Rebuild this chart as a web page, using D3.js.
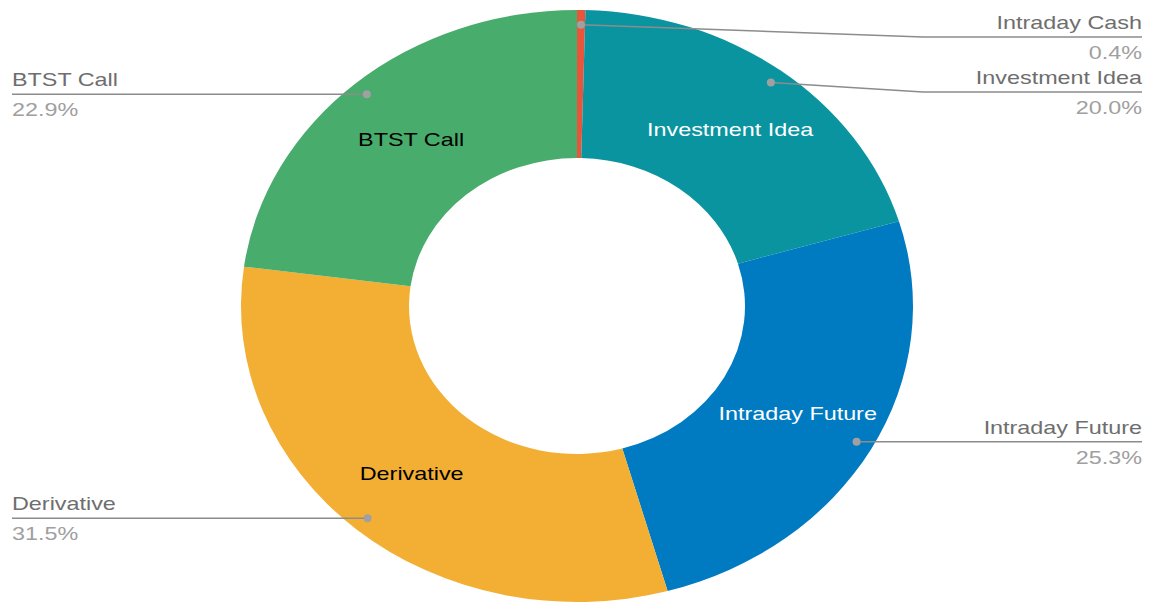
<!DOCTYPE html>
<html>
<head>
<meta charset="utf-8">
<script src="https://cdn.jsdelivr.net/npm/d3@7"></script>
<style>
body { margin: 0; background: #fff; }
text { font-family: "Liberation Sans", Arial, sans-serif; }
</style>
</head>
<body>
<svg id="chart" width="1150" height="605"></svg>
<script>
// data
var categories = ["Intraday Cash", "Investment Idea", "Intraday Future", "Derivative", "BTST Call"];
var values = [0.4, 20.0, 25.3, 31.5, 22.9];
var colors = ["#E9553A", "#0A94A0", "#007BC2", "#F2AF34", "#48AC6C"];

var W = 1150, H = 605;
var cx = 577, cy = 306;
var R = 296, r0 = 148;
var sx = 336 / 296;          // the donut is drawn wider than tall
var fontSize = 19, stretch = 1.23;

var svg = d3.select("#chart");

var pie = d3.pie().sort(null).value(function (d) { return d; });
var arcs = pie(values);

var arc = d3.arc().innerRadius(r0).outerRadius(R);

// point on the (stretched) donut, angle from 12 o'clock clockwise
function pt(a, rad) {
    return [cx + sx * rad * Math.sin(a), cy - rad * Math.cos(a)];
}
function mid(d) { return (d.startAngle + d.endAngle) / 2; }

var g = svg.append("g")
    .attr("transform", "translate(" + cx + "," + cy + ") scale(" + sx + ",1)");

g.selectAll("path")
    .data(arcs)
    .enter()
    .append("path")
    .attr("d", arc)
    .attr("fill", function (d, i) { return colors[i]; });

// labels inside the ring
svg.selectAll(".inlabel")
    .data(arcs.filter(function (d) { return d.value >= 5; }))
    .enter()
    .append("text")
    .attr("class", "inlabel")
    .attr("transform", function (d) {
        var p = pt(mid(d), (R + r0) / 2);
        return "translate(" + p[0] + "," + (p[1] + fontSize * 0.36) + ") scale(" + stretch + ",1)";
    })
    .attr("text-anchor", "middle")
    .attr("font-size", fontSize)
    .attr("fill", function (d) {
        // dark text on light slices
        return d3.lab(colors[d.index]).l > 60 ? "#000" : "#fff";
    })
    .text(function (d) { return categories[d.index]; });

// outside labels: place, then push apart on each side
var labels = arcs.map(function (d) {
    var a = mid(d);
    var p = pt(a, R * 0.95);
    return { d: d, dot: p, right: a < Math.PI, y: p[1] };
});
[true, false].forEach(function (side) {
    var list = labels.filter(function (l) { return l.right === side; })
        .sort(function (a, b) { return a.y - b.y; });
    var prev = -Infinity;
    list.forEach(function (l) {
        l.y = Math.max(l.y, prev + 55, 37);
        prev = l.y;
    });
});

var lab = svg.selectAll(".outlabel")
    .data(labels)
    .enter()
    .append("g")
    .attr("class", "outlabel");

lab.append("polyline")
    .attr("fill", "none")
    .attr("stroke", "#8c8c8c")
    .attr("stroke-width", 1.5)
    .attr("points", function (l) {
        var elbowX = l.right ? cx + sx * R + 10 : cx - sx * R - 10;
        var endX = l.right ? W - 8 : 12;
        return [l.dot, [elbowX, l.y], [endX, l.y]].map(function (p) { return p.join(","); }).join(" ");
    });

lab.append("circle")
    .attr("cx", function (l) { return l.dot[0]; })
    .attr("cy", function (l) { return l.dot[1]; })
    .attr("r", 4)
    .attr("fill", "#a0a0a0");

lab.append("text")
    .attr("transform", function (l) {
        var x = l.right ? W - 8 : 12;
        return "translate(" + x + "," + (l.y - 8) + ") scale(" + stretch + ",1)";
    })
    .attr("text-anchor", function (l) { return l.right ? "end" : "start"; })
    .attr("font-size", fontSize)
    .attr("fill", "#6e6e6e")
    .text(function (l) { return categories[l.d.index]; });

lab.append("text")
    .attr("transform", function (l) {
        var x = l.right ? W - 8 : 12;
        return "translate(" + x + "," + (l.y + 22) + ") scale(" + stretch + ",1)";
    })
    .attr("text-anchor", function (l) { return l.right ? "end" : "start"; })
    .attr("font-size", fontSize)
    .attr("fill", "#a0a0a0")
    .text(function (l) { return d3.format(".1f")(l.d.value) + "%"; });
</script>
</body>
</html>
